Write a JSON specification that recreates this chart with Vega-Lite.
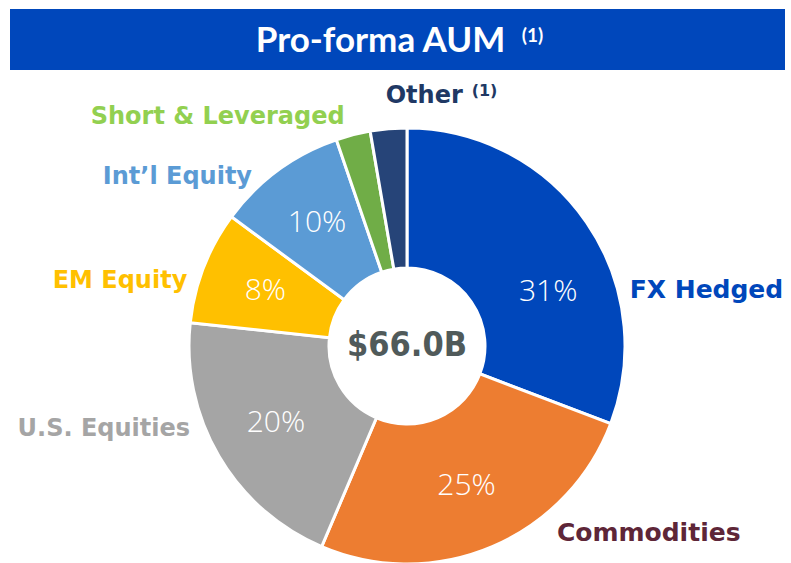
{
  "$schema": "https://vega.github.io/schema/vega-lite/v6.json",
  "padding": {"left": 10, "top": 9, "right": 0, "bottom": 0},
  "spacing": 4,
  "bounds": "flush",
  "background": "white",
  "config": {"view": {"stroke": null}, "concat": {"spacing": 4}},
  "datasets": {
    "aum": [
      {"cat": "FX Hedged", "value": 30.8, "rank": 1, "pct": "31%"},
      {"cat": "Commodities", "value": 25.6, "rank": 2, "pct": "25%"},
      {"cat": "U.S. Equities", "value": 20.3, "rank": 3, "pct": "20%"},
      {"cat": "EM Equity", "value": 8.4, "rank": 4, "pct": "8%"},
      {"cat": "Int’l Equity", "value": 9.65, "rank": 5, "pct": "10%"},
      {"cat": "Short & Leveraged", "value": 2.55, "rank": 6, "pct": ""},
      {"cat": "Other", "value": 2.7, "rank": 7, "pct": ""}
    ]
  },
  "vconcat": [
    {
      "width": 775,
      "height": 61,
      "view": {"fill": "#0047BB", "stroke": null},
      "data": {"values": [{"t": "Pro-forma AUM", "s": "(1)"}]},
      "layer": [
        {
          "mark": {"type": "text", "color": "white", "font": "Lato", "fontWeight": "bold", "fontSize": 35, "dx": -17, "dy": 1, "baseline": "middle"},
          "encoding": {"text": {"field": "t"}}
        },
        {
          "mark": {"type": "text", "color": "white", "font": "Lato", "fontWeight": "bold", "fontSize": 19, "dx": 135, "dy": -4, "baseline": "middle"},
          "encoding": {"text": {"field": "s"}}
        }
      ]
    },
    {
      "width": 794,
      "height": 544,
      "data": {"name": "aum"},
      "encoding": {
        "theta": {"field": "value", "type": "quantitative", "stack": true},
        "order": {"field": "rank", "type": "quantitative"}
      },
      "layer": [
        {
          "mark": {"type": "arc", "outerRadius": 218, "innerRadius": 78, "stroke": "white", "strokeWidth": 3},
          "encoding": {
            "color": {
              "field": "cat",
              "type": "nominal",
              "legend": null,
              "scale": {
                "domain": ["FX Hedged", "Commodities", "U.S. Equities", "EM Equity", "Int’l Equity", "Short & Leveraged", "Other"],
                "range": ["#0047BB", "#ED7D31", "#A5A5A5", "#FFC000", "#5B9BD5", "#70AD47", "#264478"]
              }
            }
          }
        },
        {
          "mark": {"type": "text", "radius": 152, "color": "white", "font": "Open Sans", "fontWeight": 300, "fontSize": 30, "baseline": "middle"},
          "encoding": {"text": {"condition": {"test": "datum.cat !== 'FX Hedged'", "field": "pct"}, "value": ""}}
        },
        {
          "mark": {"type": "text", "radius": 152, "color": "white", "font": "Open Sans", "fontWeight": 300, "fontSize": 30, "baseline": "middle", "dx": 16, "dy": 32},
          "encoding": {"text": {"condition": {"test": "datum.cat === 'FX Hedged'", "field": "pct"}, "value": ""}}
        },
        {
          "mark": {"type": "text", "radius": 240, "align": "left", "baseline": "middle", "dx": 25, "dy": 80, "font": "DejaVu Sans", "fontWeight": "bold", "fontSize": 25, "color": "#0047BB"},
          "encoding": {"text": {"condition": {"test": "datum.cat === 'FX Hedged'", "field": "cat"}, "value": ""}}
        },
        {
          "mark": {"type": "text", "radius": 240, "align": "left", "baseline": "middle", "dx": 56, "dy": -34, "font": "DejaVu Sans", "fontWeight": "bold", "fontSize": 25, "color": "#5E2638"},
          "encoding": {"text": {"condition": {"test": "datum.cat === 'Commodities'", "field": "cat"}, "value": ""}}
        },
        {
          "mark": {"type": "text", "radius": 240, "align": "right", "baseline": "middle", "dx": -10, "dy": -39, "font": "DejaVu Sans", "fontWeight": "bold", "fontSize": 24, "color": "#A5A5A5"},
          "encoding": {"text": {"condition": {"test": "datum.cat === 'U.S. Equities'", "field": "cat"}, "value": ""}}
        },
        {
          "mark": {"type": "text", "radius": 240, "align": "right", "baseline": "middle", "dx": 4, "dy": 22, "font": "DejaVu Sans", "fontWeight": "bold", "fontSize": 24, "color": "#FFC000"},
          "encoding": {"text": {"condition": {"test": "datum.cat === 'EM Equity'", "field": "cat"}, "value": ""}}
        },
        {
          "mark": {"type": "text", "radius": 240, "align": "right", "baseline": "middle", "dx": -13, "dy": 24, "font": "DejaVu Sans", "fontWeight": "bold", "fontSize": 24, "color": "#5B9BD5"},
          "encoding": {"text": {"condition": {"test": "datum.cat === 'Int’l Equity'", "field": "cat"}, "value": ""}}
        },
        {
          "mark": {"type": "text", "radius": 240, "align": "right", "baseline": "middle", "dx": -3, "dy": 4, "font": "DejaVu Sans", "fontWeight": "bold", "fontSize": 24, "color": "#92D050"},
          "encoding": {"text": {"condition": {"test": "datum.cat === 'Short & Leveraged'", "field": "cat"}, "value": ""}}
        },
        {
          "mark": {"type": "text", "radius": 240, "align": "left", "baseline": "middle", "dx": -1, "dy": -11, "font": "DejaVu Sans", "fontWeight": "bold", "fontSize": 24, "color": "#203864"},
          "encoding": {"text": {"condition": {"test": "datum.cat === 'Other'", "field": "cat"}, "value": ""}}
        },
        {
          "mark": {"type": "text", "radius": 240, "align": "left", "baseline": "middle", "dx": 85, "dy": -16, "font": "DejaVu Sans", "fontWeight": "bold", "fontSize": 16, "color": "#203864"},
          "encoding": {"text": {"condition": {"test": "datum.cat === 'Other'", "value": "(1)"}, "value": ""}}
        },
        {
          "data": {"values": [{"c": "$66.0B"}]},
          "mark": {"type": "text", "font": "DejaVu Sans Condensed", "fontWeight": "bold", "fontSize": 34, "color": "#505A5A", "baseline": "middle"},
          "encoding": {"text": {"field": "c"}, "theta": null, "order": null}
        }
      ]
    }
  ]
}
